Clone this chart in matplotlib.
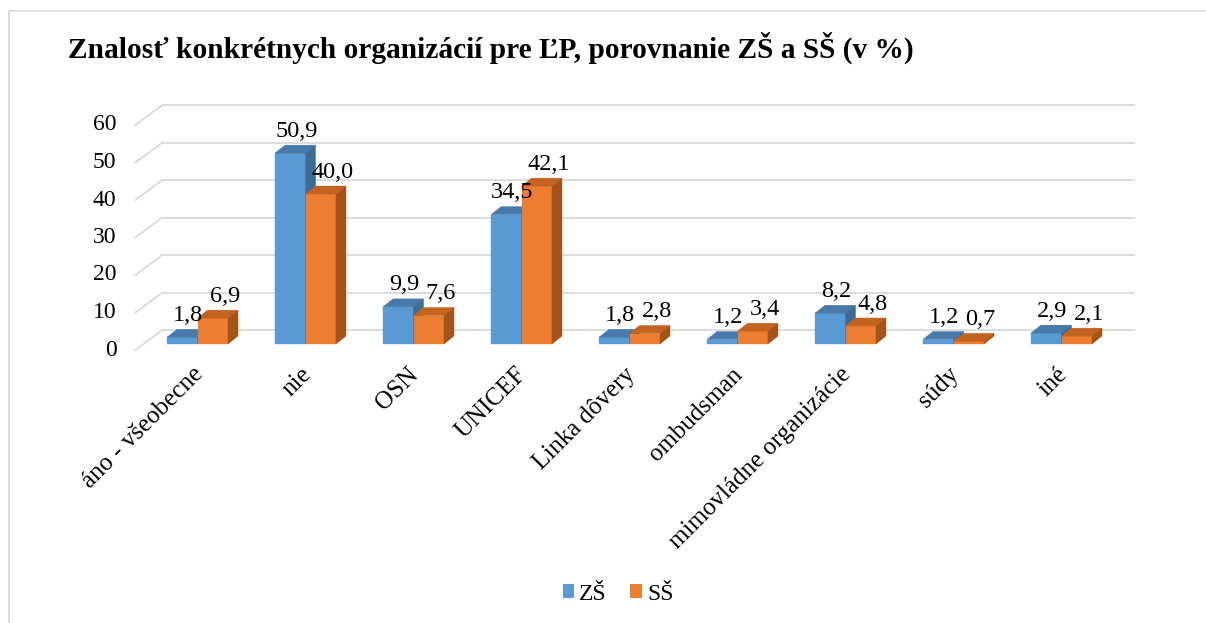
import matplotlib
matplotlib.use('Agg')
import matplotlib.pyplot as plt
from matplotlib.patches import Polygon, Patch
from matplotlib.lines import Line2D

# ---------------- data ----------------
categories = ['áno - všeobecne', 'nie', 'OSN', 'UNICEF', 'Linka dôvery',
              'ombudsman', 'mimovládne organizácie', 'súdy', 'iné']
zs_values = [1.8, 50.9, 9.9, 34.5, 1.8, 1.2, 8.2, 1.2, 2.9]
ss_values = [6.9, 40.0, 7.6, 42.1, 2.8, 3.4, 4.8, 0.7, 2.1]
series_names = ['ZŠ', 'SŠ']
y_ticks = [0, 10, 20, 30, 40, 50, 60]
title = 'Znalosť konkrétnych organizácií pre ĽP, porovnanie ZŠ a SŠ (v %)'

# ---------------- style ----------------
FONT = 'Liberation Serif'
plt.rcParams['font.family'] = [FONT, 'DejaVu Serif']
W, H, DPI = 1206, 623, 100
front_cols = ['#5B9BD5', '#ED7D31']
top_cols = ['#4779AA', '#C4631F']
side_cols = ['#3E6B96', '#A4531B']
grid_col = '#D9D9D9'

fig = plt.figure(figsize=(W / DPI, H / DPI), dpi=DPI)
fig.patch.set_facecolor('white')

# outer chart border (extends past right/bottom edges)
fig.add_artist(Line2D([8.5 / W, 8.5 / W, 1.0], [0.0, 1 - 11 / H, 1 - 11 / H],
                      transform=fig.transFigure, color=grid_col, lw=1.3))

# axes: bar front plane, x from -0.5..8.5, y 0..60
left_px, right_px, top_px, bot_px = 143.5, 1115.5, 119.0, 344.0
ax = fig.add_axes([left_px / W, (H - bot_px) / H,
                   (right_px - left_px) / W, (bot_px - top_px) / H])
n = len(categories)
ax.set_xlim(-0.5, n - 0.5)
ax.set_ylim(0, 60)
ax.axis('off')

sx = (right_px - left_px) / n        # px per category unit
sy = (bot_px - top_px) / 60.0        # px per value unit

# wall geometry (pixel offsets relative to bar-front plane)
back_dx, back_dy = 18.9, 14.0
front_dx, front_dy = -8.1, -6.0

for v in y_ticks:
    ax.plot([-0.5 + back_dx / sx, n - 0.5 + back_dx / sx],
            [v + back_dy / sy, v + back_dy / sy],
            color=grid_col, lw=1.3, clip_on=False, zorder=0)
    ax.plot([-0.5 + front_dx / sx, -0.5 + back_dx / sx],
            [v + front_dy / sy, v + back_dy / sy],
            color=grid_col, lw=1.3, clip_on=False, zorder=0)
    ax.text(-0.5 + (front_dx - 19) / sx, v + front_dy / sy, str(v),
            ha='right', va='center', fontsize=17, color='black')

# bars (3D-look)
w = 30.5 / sx
ddx, ddy = 10.0 / sx, 8.0 / sy
series = [zs_values, ss_values]
for i in range(n):
    for s, vals in enumerate(series):
        v = vals[i]
        x0 = i - w + s * w
        front = [(x0, 0), (x0 + w, 0), (x0 + w, v), (x0, v)]
        top = [(x0, v), (x0 + w, v), (x0 + w + ddx, v + ddy), (x0 + ddx, v + ddy)]
        side = [(x0 + w, 0), (x0 + w + ddx, ddy), (x0 + w + ddx, v + ddy), (x0 + w, v)]
        for poly, col in ((front, front_cols[s]), (top, top_cols[s]), (side, side_cols[s])):
            ax.add_patch(Polygon(poly, closed=True, facecolor=col, edgecolor=col,
                                 lw=0.3, clip_on=False, zorder=2))

# data labels
label_dx = [6.0, 12.0]
for i in range(n):
    for s, vals in enumerate(series):
        v = vals[i]
        x0 = i - w + s * w
        ax.text(x0 + w / 2 + label_dx[s] / sx, v + 16.5 / sy,
                f'{v:.1f}'.replace('.', ','), ha='center', va='baseline',
                fontsize=17.5, color='black', zorder=5)

# category labels
for i, c in enumerate(categories):
    ax.text(i + 2 / sx, -27 / sy, c, rotation=45, rotation_mode='anchor',
            ha='right', va='center', fontsize=18, color='black')

# title
fig.text(68 / W, 1 - 58 / H, title, ha='left', va='baseline',
         fontsize=21.2, fontweight='bold', color='black')

# legend
handles = [Patch(facecolor=front_cols[0], edgecolor='none'),
           Patch(facecolor=front_cols[1], edgecolor='none')]
fig.legend(handles, series_names, loc='center', bbox_to_anchor=(618 / W, 1 - 594 / H),
           ncol=2, frameon=False, handlelength=0.5, handleheight=0.5,
           handletextpad=0.2, columnspacing=1.0, prop={'family': FONT, 'size': 17})

fig.savefig('out.png', dpi=DPI, facecolor='white')
